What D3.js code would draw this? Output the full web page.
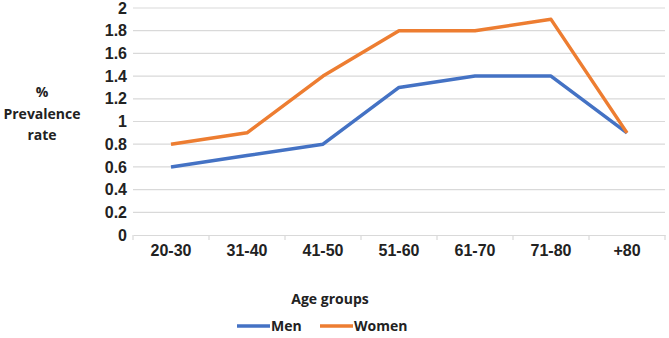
<!DOCTYPE html>
<html>
<head>
<meta charset="utf-8">
<script src="https://cdn.jsdelivr.net/npm/d3@7"></script>
<style>
  body { margin: 0; background: #fff; }
  .tick text { font-family: "Liberation Sans", Arial, sans-serif; font-weight: bold; font-size: 16px; fill: #222; }
  .title { font-family: "Open Sans", Lato, sans-serif; font-weight: bold; font-size: 14px; fill: #222; }
</style>
</head>
<body>
<div id="chart"></div>
<script>
const ageGroups = ["20-30", "31-40", "41-50", "51-60", "61-70", "71-80", "+80"];
const menValues = [0.6, 0.7, 0.8, 1.3, 1.4, 1.4, 0.9];
const womenValues = [0.8, 0.9, 1.4, 1.8, 1.8, 1.9, 0.9];
const yTicks = [0, 0.2, 0.4, 0.6, 0.8, 1, 1.2, 1.4, 1.6, 1.8, 2];
const seriesNames = ["Men", "Women"];
const seriesColors = ["#4472C4", "#ED7D31"];

const width = 669, height = 338;
const margins = { top: 8, right: 4, bottom: 103, left: 133 };

const svg = d3.select("#chart").append("svg")
    .attr("width", width)
    .attr("height", height);

const xScale = d3.scaleBand().domain(ageGroups).range([margins.left, width - margins.right]);
const yScale = d3.scaleLinear().domain([0, 2]).range([height - margins.bottom, margins.top]);

// gridlines
svg.append("g")
    .selectAll("line")
    .data(yTicks.slice(1))
    .join("line")
    .attr("x1", margins.left)
    .attr("x2", width - margins.right)
    .attr("y1", d => yScale(d))
    .attr("y2", d => yScale(d))
    .attr("stroke", "#d9d9d9")
    .attr("stroke-width", 1.2);

// y axis
const yAxis = svg.append("g")
    .attr("transform", `translate(${margins.left}, 0)`)
    .call(d3.axisLeft(yScale).tickValues(yTicks).tickSize(0).tickPadding(6).tickFormat(d => String(d)));
yAxis.select(".domain").remove();

// x axis
const xAxis = svg.append("g")
    .attr("transform", `translate(0, ${yScale(0)})`)
    .call(d3.axisBottom(xScale).tickSize(0).tickPadding(10));
xAxis.select(".domain").attr("stroke", "#d9d9d9").attr("stroke-width", 1.2);
// band boundary ticks
xAxis.append("g")
    .selectAll("line")
    .data(ageGroups.concat(["end"]))
    .join("line")
    .attr("x1", (d, i) => margins.left + i * xScale.bandwidth())
    .attr("x2", (d, i) => margins.left + i * xScale.bandwidth())
    .attr("y1", 0)
    .attr("y2", 5)
    .attr("stroke", "#d9d9d9")
    .attr("stroke-width", 1.2);

// lines
const series = [menValues, womenValues];
const line = d3.line()
    .x((d, i) => xScale(ageGroups[i]) + xScale.bandwidth() / 2)
    .y(d => yScale(d));

series.forEach((vals, k) => {
    svg.append("path")
        .datum(vals)
        .attr("fill", "none")
        .attr("stroke", seriesColors[k])
        .attr("stroke-width", 3.5)
        .attr("stroke-linejoin", "round")
        .attr("d", line);
});

// y title
const yTitle = svg.append("text")
    .attr("class", "title")
    .attr("text-anchor", "middle");
["%", "Prevalence", "rate"].forEach((t, i) => {
    yTitle.append("tspan")
        .attr("x", 42)
        .attr("y", 97 + i * 21.5)
        .text(t);
});

// x title
svg.append("text")
    .attr("class", "title")
    .attr("x", 330)
    .attr("y", 304)
    .attr("text-anchor", "middle")
    .text("Age groups");

// legend
const legendX = [237, 320];
seriesNames.forEach((name, k) => {
    const g = svg.append("g").attr("transform", `translate(${legendX[k]}, 326)`);
    g.append("line")
        .attr("x1", 0).attr("x2", 33)
        .attr("y1", 0).attr("y2", 0)
        .attr("stroke", seriesColors[k])
        .attr("stroke-width", 3.5);
    g.append("text")
        .attr("class", "title")
        .attr("x", 34)
        .attr("y", 5)
        .text(name);
});
</script>
</body>
</html>
